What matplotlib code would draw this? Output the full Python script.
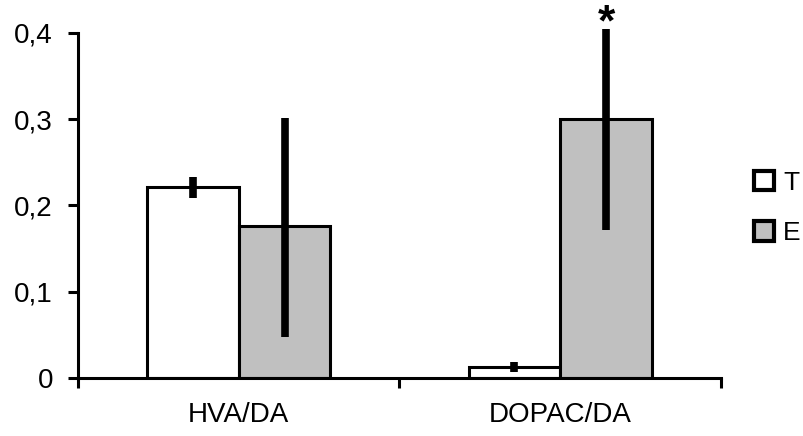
import numpy as np
import matplotlib
matplotlib.use('Agg')
import matplotlib.pyplot as plt
from matplotlib.patches import Patch

plt.rcParams['font.family'] = ['Liberation Sans', 'DejaVu Sans']

categories = ['HVA/DA', 'DOPAC/DA']
series = ['T', 'E']
t_values = [0.221, 0.013]
t_errors = [0.0125, 0.006]
e_values = [0.176, 0.300]
e_err_low = [0.128, 0.128]
e_err_high = [0.125, 0.105]
y_ticks = [0, 0.1, 0.2, 0.3, 0.4]
y_tick_labels = ['0', '0,1', '0,2', '0,3', '0,4']
star_group = 1
star_y = 0.411

fig = plt.figure(figsize=(8.04, 4.36), dpi=100)
ax = fig.add_axes([78 / 804, (436 - 378) / 436, (721 - 78) / 804, 345 / 436])

centers = np.arange(len(categories)) + 0.5
w = 0.285

ax.bar(centers - w / 2, t_values, w, color='white', edgecolor='black', linewidth=2.2, zorder=2)
ax.bar(centers + w / 2, e_values, w, color='#C0C0C0', edgecolor='black', linewidth=2.2, zorder=2)
ax.errorbar(centers - w / 2, t_values, yerr=t_errors, fmt='none', ecolor='black',
            elinewidth=5.5, capsize=0, zorder=3, clip_on=False)
ax.errorbar(centers + w / 2, e_values, yerr=[e_err_low, e_err_high], fmt='none', ecolor='black',
            elinewidth=5.5, capsize=0, zorder=3, clip_on=False)

# significance mark above E bar
ax.text(centers[star_group] + w / 2, star_y, '*',
        ha='center', va='center', fontsize=32, fontweight='bold', clip_on=False)

ax.set_xlim(0, len(categories))
ax.set_ylim(0, 0.4)
ax.set_yticks(y_ticks)
ax.set_yticklabels(y_tick_labels)
ax.set_xticks(np.arange(len(categories) + 1))
ax.set_xticklabels([])
ax.set_xticks(centers, minor=True)
ax.set_xticklabels(categories, minor=True)
ax.tick_params(axis='x', which='minor', length=0, pad=17, labelsize=20)
ax.tick_params(axis='x', which='major', length=7, width=2.2, direction='out')
ax.tick_params(axis='y', length=7, width=2.2, direction='out', labelsize=20, pad=11)

for s in ['top', 'right']:
    ax.spines[s].set_visible(False)
for s in ['left', 'bottom']:
    ax.spines[s].set_linewidth(2.2)

handles = [Patch(facecolor='white', edgecolor='black', linewidth=3),
           Patch(facecolor='#C0C0C0', edgecolor='black', linewidth=3)]
fig.legend(handles, series, loc='center left', bbox_to_anchor=(754 / 804, 1 - 208 / 436),
           frameon=False, fontsize=19, handlelength=0.75, handleheight=0.75,
           handletextpad=0.35, labelspacing=1.0, borderaxespad=0, borderpad=0)

fig.savefig('out.png', dpi=100)
